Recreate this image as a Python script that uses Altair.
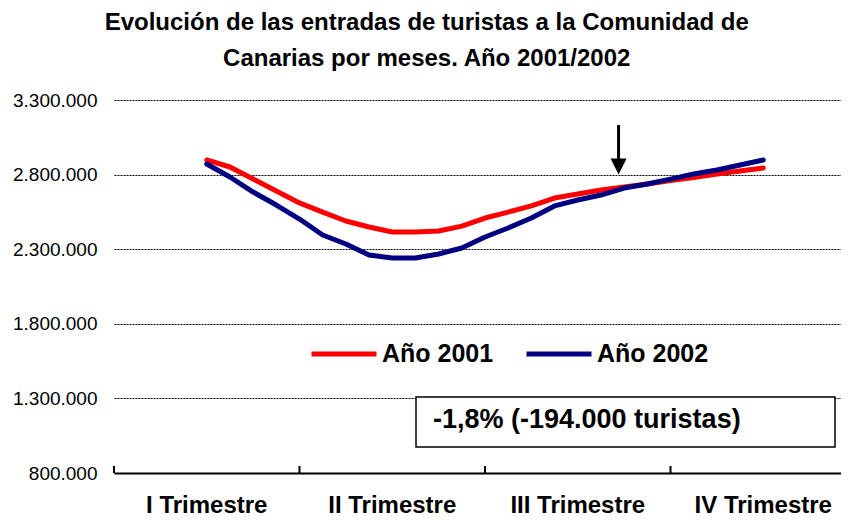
import altair as alt
import pandas as pd

# ---------------- data ----------------
quarters = ["I Trimestre", "II Trimestre", "III Trimestre", "IV Trimestre"]
quarter_pos = [0.5, 1.5, 2.5, 3.5]
boundaries = [0, 1, 2, 3]
series_names = ["Año 2001", "Año 2002"]
values_2001 = [2898000, 2851000, 2770000, 2690000, 2610000, 2549000, 2489000,
               2449000, 2415000, 2415000, 2422000, 2455000, 2509000, 2549000,
               2590000, 2643000, 2670000, 2697000, 2717000, 2737000, 2760000,
               2781000, 2804000, 2824000, 2844000]
values_2002 = [2871000, 2784000, 2683000, 2596000, 2502000, 2395000, 2335000,
               2261000, 2241000, 2241000, 2268000, 2308000, 2382000, 2442000,
               2509000, 2590000, 2630000, 2663000, 2710000, 2737000, 2770000,
               2804000, 2831000, 2864000, 2898000]
y_ticks = [800000, 1300000, 1800000, 2300000, 2800000, 3300000]
arrow_x = [2.72]
arrow_top = [3132000]
arrow_tip = [2800000]
note = ["-1,8% (-194.000 turistas)"]
title_lines = ["Evolución de las entradas de turistas a la Comunidad de",
               "Canarias por meses. Año 2001/2002"]

n = len(values_2001)
pos = [0.5 + 3 * i / (n - 1) for i in range(n)]
rows = []
for name, vals in zip(series_names, [values_2001, values_2002]):
    for i, (p, v) in enumerate(zip(pos, vals)):
        rows.append({"serie": name, "pos": p, "orden": i, "valor": v})
df = pd.DataFrame(rows)

# ---------------- layout ----------------
FONT = "Liberation Sans"
W, H = 727, 373
QW = 185.5
xscale = alt.Scale(domain=[0, W / QW], nice=False, zero=False)
yscale = alt.Scale(domain=[800000, 3300000], nice=False, zero=False)

lines = alt.Chart(df).mark_line(strokeWidth=5, strokeCap="round", strokeJoin="round").encode(
    x=alt.X("pos:Q", scale=xscale,
            axis=alt.Axis(title=None, labels=False, ticks=False, grid=False,
                          domain=True, domainColor="black", domainWidth=2)),
    y=alt.Y("valor:Q", scale=yscale,
            axis=alt.Axis(title=None, values=y_ticks,
                          labelExpr="replace(replace(format(datum.value, ','), ',', '.'), ',', '.')",
                          ticks=False, domain=False, grid=True, gridColor="black",
                          gridDash=[2, 1], gridWidth=1, gridOpacity=1,
                          labelFont=FONT, labelFontSize=19, labelColor="black",
                          labelPadding=17)),
    color=alt.Color("serie:N",
                    scale=alt.Scale(domain=series_names, range=["#FF0000", "#000080"]),
                    legend=alt.Legend(title=None, orient="none", legendX=195, legendY=219,
                                      direction="horizontal", symbolType="stroke",
                                      symbolStrokeWidth=5, symbolSize=4225,
                                      labelFont=FONT, labelFontSize=25,
                                      labelFontWeight="bold", labelColor="black",
                                      columnPadding=22, labelOffset=3, padding=0)),
    order="orden:Q",
)

tick_df = pd.DataFrame({"b": boundaries})
ticks = alt.Chart(tick_df).mark_rule(color="black", strokeWidth=2).encode(
    x=alt.X("b:Q", scale=xscale), y=alt.value(H), y2=alt.value(H - 7))

qdf = pd.DataFrame({"q": quarters, "p": quarter_pos})
qlabels = alt.Chart(qdf).mark_text(font=FONT, fontSize=24, fontWeight="bold",
                                   color="black", baseline="middle").encode(
    x=alt.X("p:Q", scale=xscale), y=alt.value(H + 33), text="q:N")

adf = pd.DataFrame({"x": arrow_x, "top": arrow_top, "tip": arrow_tip})
shaft = alt.Chart(adf).mark_rule(color="black", strokeWidth=3, y2Offset=-8).encode(
    x=alt.X("x:Q", scale=xscale), y=alt.Y("top:Q", scale=yscale), y2="tip:Q")
head = alt.Chart(adf).mark_point(shape="M-1,-1L1,-1L0,1Z", filled=True, fill="black",
                                 stroke="black", strokeWidth=0, opacity=1, size=256,
                                 yOffset=-8).encode(
    x=alt.X("x:Q", scale=xscale), y=alt.Y("tip:Q", scale=yscale))

bdf = pd.DataFrame({"t": note})
box = alt.Chart(bdf).mark_rect(fill="white", stroke="black", strokeWidth=1.5).encode(
    x=alt.value(302), x2=alt.value(721), y=alt.value(297), y2=alt.value(347))
boxtext = alt.Chart(bdf).mark_text(align="left", baseline="middle", font=FONT,
                                   fontSize=27, fontWeight="bold", color="black").encode(
    x=alt.value(319), y=alt.value(320), text="t:N")

chart = alt.layer(lines, ticks, qlabels, shaft, head, box, boxtext).properties(
    width=W, height=H,
    title=alt.Title(title_lines, font=FONT, fontSize=24, fontWeight="bold", color="black",
                    anchor="middle", frame="bounds", offset=20, lineHeight=36),
    autosize=alt.AutoSizeParams(type="none"),
    padding={"left": 106, "top": 92, "right": 0, "bottom": 48},
    background="white",
).configure_view(stroke=None)

chart.save("out.html", embed_options={"renderer": "svg", "actions": False})
